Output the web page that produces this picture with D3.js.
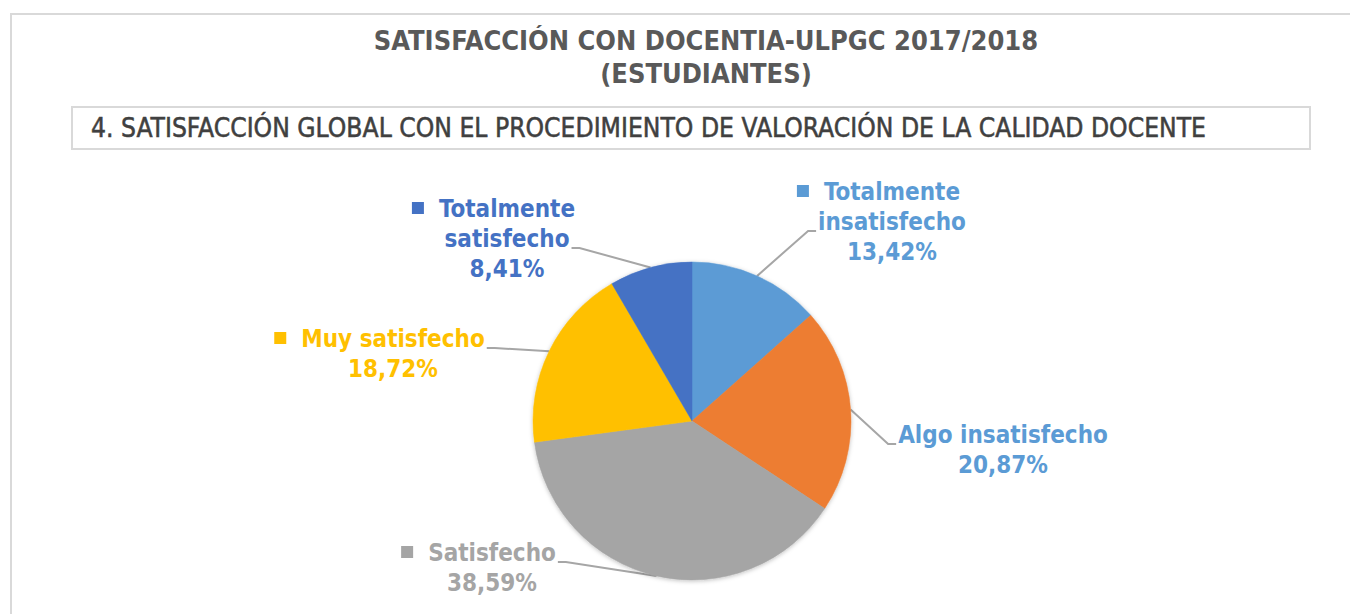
<!DOCTYPE html>
<html>
<head>
<meta charset="utf-8">
<script src="https://cdn.jsdelivr.net/npm/d3@7"></script>
<style>
  body { margin: 0; background: #fff; }
  svg text { font-family: "DejaVu Sans Condensed", "DejaVu Sans", sans-serif; font-stretch: condensed; font-weight: bold; }
</style>
</head>
<body>
<svg id="chart" width="1350" height="614"></svg>
<script>
"use strict";

// Data
var categories = ["Totalmente insatisfecho", "Algo insatisfecho", "Satisfecho", "Muy satisfecho", "Totalmente satisfecho"];
var values = [13.42, 20.87, 38.59, 18.72, 8.41];
var valueLabels = ["13,42%", "20,87%", "38,59%", "18,72%", "8,41%"];
var colours = ["#5B9BD5", "#ED7D31", "#A5A5A5", "#FFC000", "#4472C4"];
var labelColours = ["#5B9BD5", "#5B9BD5", "#A5A5A5", "#FFC000", "#4472C4"];
var titleLines = ["SATISFACCIÓN CON DOCENTIA-ULPGC 2017/2018", "(ESTUDIANTES)"];
var subtitle = "4. SATISFACCIÓN GLOBAL CON EL PROCEDIMIENTO DE VALORACIÓN DE LA CALIDAD DOCENTE";

// Label layout (Excel places these by hand)
var labelLines = [["Totalmente", "insatisfecho"], ["Algo insatisfecho"], ["Satisfecho"], ["Muy satisfecho"], ["Totalmente", "satisfecho"]];
var labelCentre = [[892, 200], [1003, 443], [492, 561], [393, 347], [507, 217]];
var labelAttach = [1, 0, 0, 0, 1];
var labelKey = [true, false, true, true, true];

var svg = d3.select("#chart");
var cx = 692, cy = 421, r = 159;
var lineH = 30;

// Frame
svg.append("rect").attr("x", 11).attr("y", 14).attr("width", 1400).attr("height", 700)
  .attr("fill", "none").attr("stroke", "#d9d9d9").attr("stroke-width", 2);

svg.selectAll(".title").data(titleLines).enter().append("text")
  .attr("class", "title")
  .attr("x", 706).attr("y", function(d, i) { return 50 + i * 33; })
  .attr("text-anchor", "middle").attr("font-size", 27).attr("fill", "#595959")
  .text(function(d) { return d; });

svg.append("rect").attr("x", 72).attr("y", 107).attr("width", 1238).attr("height", 42)
  .attr("fill", "none").attr("stroke", "#d9d9d9").attr("stroke-width", 2);
svg.append("text").attr("x", 91).attr("y", 137).attr("font-size", 26)
  .style("font-weight", "normal").attr("fill", "#404040")
  .attr("stroke", "#404040").attr("stroke-width", 0.5)
  .attr("textLength", 1115).attr("lengthAdjust", "spacingAndGlyphs")
  .text(subtitle);

// Shadow
var defs = svg.append("defs");
var f = defs.append("filter").attr("id", "shadow").attr("x", "-20%").attr("y", "-20%").attr("width", "140%").attr("height", "140%");
f.append("feDropShadow").attr("dx", 0).attr("dy", 1).attr("stdDeviation", 2).attr("flood-color", "#000").attr("flood-opacity", 0.25);

var pie = d3.pie().sort(null).value(function(d) { return d; });
var arcs = pie(values);
var arc = d3.arc().innerRadius(0).outerRadius(r);
var edge = d3.arc().innerRadius(r).outerRadius(r);

var g = svg.append("g").attr("transform", "translate(" + cx + "," + cy + ")");
g.append("g").attr("filter", "url(#shadow)")
  .selectAll("path").data(arcs).enter().append("path")
  .attr("d", arc)
  .attr("fill", function(d, i) { return colours[i]; })
  .attr("stroke", function(d, i) { return colours[i]; }).attr("stroke-width", 0.5);

// Labels
arcs.forEach(function(d, i) {
  var lx = labelCentre[i][0], ly = labelCentre[i][1];
  var lines = labelLines[i].concat([valueLabels[i]]);
  var lg = svg.append("g");
  var texts = [];
  lines.forEach(function(t, j) {
    var tx = lg.append("text").attr("x", lx).attr("y", ly + j * lineH)
      .attr("text-anchor", "middle").attr("font-size", 24).attr("fill", labelColours[i]).text(t);
    texts.push(tx);
  });
  var first = texts[0].node().getBBox();
  if (labelKey[i]) {
    lg.append("rect").attr("x", first.x - 27).attr("y", ly - 15).attr("width", 12).attr("height", 12)
      .attr("fill", colours[i]);
  }
  // Leader line
  var b = texts[labelAttach[i]].node().getBBox();
  var c = edge.centroid(d);
  var px = cx + c[0], py = cy + c[1];
  var ay = ly + labelAttach[i] * lineH + 1;
  var ax = px < lx ? b.x - 2 : b.x + b.width + 2;
  var ex = px < lx ? ax - 8 : ax + 8;
  svg.insert("path", "g")
    .attr("d", d3.line()([[ax, ay], [ex, ay], [px, py]]))
    .attr("fill", "none").attr("stroke", "#A6A6A6").attr("stroke-width", 2);
});
</script>
</body>
</html>
